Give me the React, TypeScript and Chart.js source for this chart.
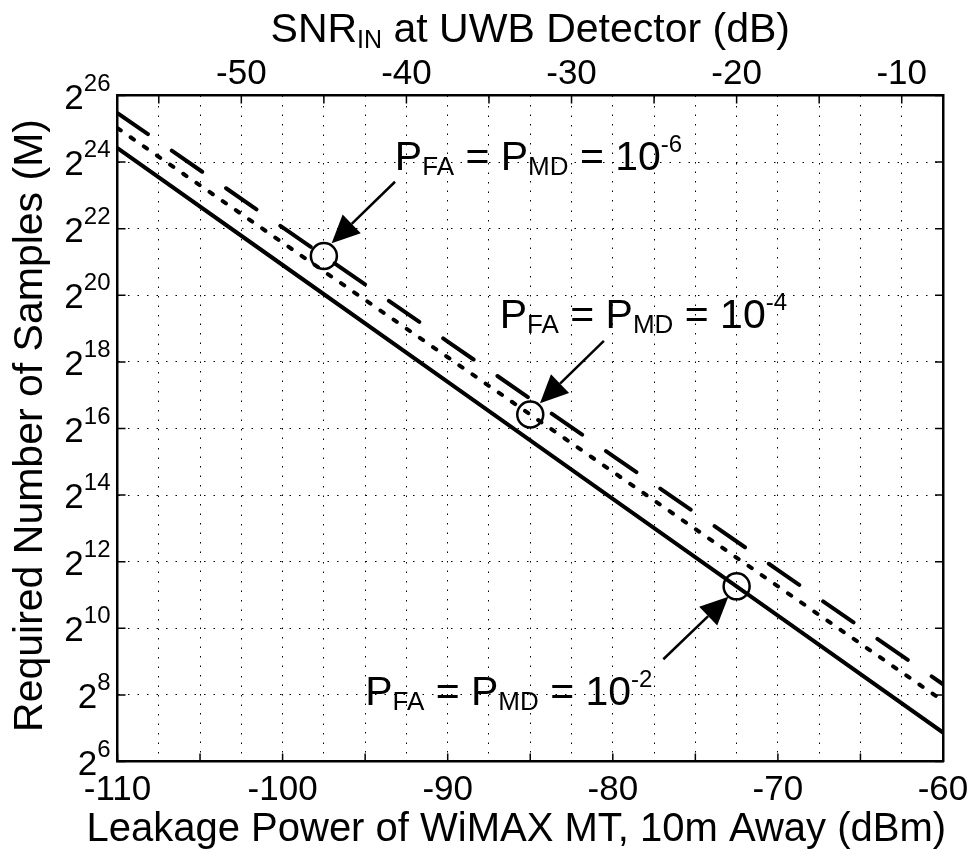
import React, { useEffect, useRef } from 'react';
import { Chart, registerables } from 'chart.js';

Chart.register(...registerables);

const FONT = '"Liberation Sans", Arial, Helvetica, sans-serif';

// Leakage power of the WiMAX MT, 10 m away (dBm), where each curve is sampled
const leakagePower = [-110, -100, -90, -80, -70, -60];
// log2 of the required number of samples M for each detection target
const log2M_pfa1e2 = [24.42, 20.91, 17.4, 13.89, 10.38, 6.87];
const log2M_pfa1e4 = [25.02, 21.58, 18.14, 14.7, 11.26, 7.82];
const log2M_pfa1e6 = [25.47, 22.04, 18.61, 15.18, 11.75, 8.32];

// Highlighted operating points (circles)
const markerPower = [-97.5, -85, -72.5];
const markerLog2M = [21.18, 16.42, 11.26];

// Axis ticks
const powerTicks = [-110, -105, -100, -95, -90, -85, -80, -75, -70, -65, -60];
const snrTicks = [-55, -50, -45, -40, -35, -30, -25, -20, -15, -10];
const exponentTicks = [6, 8, 10, 12, 14, 16, 18, 20, 22, 24, 26];

// SNR_IN at the UWB detector spans the same range shifted by 52.5 dB
const snrMin = -57.5;
const snrMax = -7.5;

// Callouts: label exponent, text anchor (dBm, log2 M), arrow tail and tip
const callouts = [
  { exp: '-6', tx: -93.2, ty: 23.76, ax: -93.19, ay: 23.41, bx: -97.03, by: 21.56 },
  { exp: '-4', tx: -86.85, ty: 19.01, ax: -80.54, ay: 18.63, bx: -84.41, by: 16.76 },
  { exp: '-2', tx: -95.0, ty: 7.7, ax: -76.94, ay: 9.07, bx: -73.0, by: 10.95 },
];

type Part = { t: string; size: number; dy: number };

function drawRich(ctx: CanvasRenderingContext2D, parts: Part[], x: number, y: number, align: 'left' | 'center' | 'right') {
  const widths = parts.map((p) => {
    ctx.font = `${p.size}px ${FONT}`;
    return ctx.measureText(p.t).width;
  });
  const total = widths.reduce((a, b) => a + b, 0);
  let cx = align === 'left' ? x : align === 'center' ? x - total / 2 : x - total;
  ctx.textAlign = 'left';
  ctx.textBaseline = 'alphabetic';
  parts.forEach((p, i) => {
    ctx.font = `${p.size}px ${FONT}`;
    ctx.fillText(p.t, cx, y + p.dy);
    cx += widths[i];
  });
}

function drawArrow(ctx: CanvasRenderingContext2D, x1: number, y1: number, x2: number, y2: number) {
  const ang = Math.atan2(y2 - y1, x2 - x1);
  const hl = 28;
  const hw = 13;
  const bx = x2 - hl * Math.cos(ang);
  const by = y2 - hl * Math.sin(ang);
  ctx.lineWidth = 2.5;
  ctx.beginPath();
  ctx.moveTo(x1, y1);
  ctx.lineTo(bx, by);
  ctx.stroke();
  ctx.beginPath();
  ctx.moveTo(x2, y2);
  ctx.lineTo(bx + hw * Math.sin(ang), by - hw * Math.cos(ang));
  ctx.lineTo(bx - hw * Math.sin(ang), by + hw * Math.cos(ang));
  ctx.closePath();
  ctx.fill();
}

// Tick marks pointing into the plot box on all four sides
const innerTicks = {
  id: 'innerTicks',
  afterDraw(chart: any) {
    const { ctx, chartArea: a, scales } = chart;
    const L = 8;
    ctx.save();
    ctx.strokeStyle = '#000';
    ctx.lineWidth = 1.5;
    ctx.setLineDash([]);
    ctx.beginPath();
    for (const t of scales.x.ticks) {
      const px = scales.x.getPixelForValue(t.value);
      ctx.moveTo(px, a.bottom);
      ctx.lineTo(px, a.bottom - L);
    }
    for (const t of scales.x2.ticks) {
      const px = scales.x2.getPixelForValue(t.value);
      ctx.moveTo(px, a.top);
      ctx.lineTo(px, a.top + L);
    }
    for (const t of scales.y.ticks) {
      const py = scales.y.getPixelForValue(t.value);
      ctx.moveTo(a.left, py);
      ctx.lineTo(a.left + L, py);
      ctx.moveTo(a.right, py);
      ctx.lineTo(a.right - L, py);
    }
    ctx.stroke();
    ctx.restore();
  },
};

// Power-of-two tick labels, axis titles, callout texts and arrows
const labels = {
  id: 'labels',
  afterDraw(chart: any) {
    const { ctx, chartArea: a, scales } = chart;
    ctx.save();
    ctx.fillStyle = '#000';
    ctx.strokeStyle = '#000';

    for (const e of exponentTicks) {
      const py = scales.y.getPixelForValue(Math.pow(2, e));
      drawRich(ctx, [
        { t: '2', size: 35, dy: 0 },
        { t: String(e), size: 24, dy: -18 },
      ], a.left - 7, py + 13, 'right');
    }

    const cx = (a.left + a.right) / 2;
    drawRich(ctx, [
      { t: 'SNR', size: 41, dy: 0 },
      { t: 'IN', size: 25, dy: 6 },
      { t: ' at UWB Detector (dB)', size: 41, dy: 0 },
    ], cx, 42, 'center');

    drawRich(ctx, [{ t: 'Leakage Power of WiMAX MT, 10m Away (dBm)', size: 40, dy: 0 }], cx - 14, 841, 'center');

    ctx.save();
    ctx.translate(42, (a.top + a.bottom) / 2 - 3);
    ctx.rotate(-Math.PI / 2);
    drawRich(ctx, [{ t: 'Required Number of Samples (M)', size: 41, dy: 0 }], 0, 0, 'center');
    ctx.restore();

    for (const c of callouts) {
      const tx = scales.x.getPixelForValue(c.tx);
      const ty = scales.y.getPixelForValue(Math.pow(2, c.ty));
      drawRich(ctx, [
        { t: 'P', size: 41, dy: 0 },
        { t: 'FA', size: 26, dy: 5 },
        { t: ' = P', size: 41, dy: 0 },
        { t: 'MD', size: 26, dy: 5 },
        { t: ' = 10', size: 41, dy: 0 },
        { t: c.exp, size: 24, dy: -18 },
      ], tx, ty, 'left');
      drawArrow(
        ctx,
        scales.x.getPixelForValue(c.ax),
        scales.y.getPixelForValue(Math.pow(2, c.ay)),
        scales.x.getPixelForValue(c.bx),
        scales.y.getPixelForValue(Math.pow(2, c.by)),
      );
    }
    ctx.restore();
  },
};

function curve(log2M: number[]) {
  return leakagePower.map((x, i) => ({ x, y: Math.pow(2, log2M[i]) }));
}

const gridStyle = { color: '#000', lineWidth: 1, drawTicks: false };
const dottedBorder = { display: true, color: '#000', width: 2.5, dash: [1.5, 8] };
const tickFont = { family: FONT, size: 35 };

export default function App() {
  const ref = useRef<HTMLCanvasElement>(null);

  useEffect(() => {
    const lineBase = {
      borderColor: '#000',
      borderWidth: 4,
      pointRadius: 0,
      borderCapStyle: 'round',
      fill: false,
      tension: 0,
      xAxisID: 'x',
      yAxisID: 'y',
    };
    const chart = new Chart(ref.current as HTMLCanvasElement, {
      type: 'line',
      data: {
        datasets: [
          { ...lineBase, label: 'PFA = PMD = 1e-2', data: curve(log2M_pfa1e2), borderDash: [] },
          { ...lineBase, label: 'PFA = PMD = 1e-4', data: curve(log2M_pfa1e4), borderDash: [4, 12] },
          { ...lineBase, label: 'PFA = PMD = 1e-6', data: curve(log2M_pfa1e6), borderDash: [37, 29] },
          {
            type: 'scatter',
            label: 'operating points',
            data: markerPower.map((x, i) => ({ x, y: Math.pow(2, markerLog2M[i]) })),
            showLine: false,
            pointRadius: 13,
            pointBorderWidth: 2.5,
            pointBorderColor: '#000',
            pointBackgroundColor: 'rgba(0,0,0,0)',
            xAxisID: 'x',
            yAxisID: 'y',
          },
        ] as any,
      },
      options: {
        animation: false,
        responsive: false,
        devicePixelRatio: 1,
        layout: { padding: 0 },
        plugins: { legend: { display: false }, tooltip: { enabled: false } },
        scales: {
          x: {
            type: 'linear',
            position: 'bottom',
            min: -110,
            max: -60,
            afterBuildTicks: (s: any) => {
              s.ticks = powerTicks.map((v) => ({ value: v }));
            },
            ticks: {
              callback: (v: any) => (Number(v) % 10 === 0 ? String(v) : ''),
              font: tickFont,
              color: '#000',
              padding: 8,
              maxRotation: 0,
              autoSkip: false,
            },
            grid: gridStyle,
            border: dottedBorder,
            afterFit: (s: any) => {
              s.height = 94.5;
              s.paddingLeft = 0;
              s.paddingRight = 0;
            },
          },
          x2: {
            type: 'linear',
            position: 'top',
            display: true,
            min: snrMin,
            max: snrMax,
            afterBuildTicks: (s: any) => {
              s.ticks = snrTicks.map((v) => ({ value: v }));
            },
            ticks: {
              callback: (v: any) => (Number(v) % 10 === 0 ? String(v) : ''),
              font: tickFont,
              color: '#000',
              padding: 0,
              maxRotation: 0,
              autoSkip: false,
            },
            grid: gridStyle,
            border: dottedBorder,
            afterFit: (s: any) => {
              s.height = 95.5;
              s.paddingLeft = 0;
              s.paddingRight = 0;
            },
          },
          y: {
            type: 'logarithmic',
            position: 'left',
            min: Math.pow(2, 6),
            max: Math.pow(2, 26),
            afterBuildTicks: (s: any) => {
              s.ticks = exponentTicks.map((e) => ({ value: Math.pow(2, e) }));
            },
            ticks: { display: false },
            grid: gridStyle,
            border: dottedBorder,
            afterFit: (s: any) => {
              s.width = 117.5;
              s.paddingTop = 0;
              s.paddingBottom = 0;
            },
          },
          y2: {
            type: 'logarithmic',
            position: 'right',
            display: true,
            min: Math.pow(2, 6),
            max: Math.pow(2, 26),
            ticks: { display: false },
            grid: { display: false, drawTicks: false },
            border: { display: true, color: '#000', width: 2.5 },
            afterFit: (s: any) => {
              s.width = 26;
              s.paddingTop = 0;
              s.paddingBottom = 0;
            },
          },
        },
      } as any,
      plugins: [innerTicks, labels],
    });
    return () => chart.destroy();
  }, []);

  return (
    <div style={{ position: 'absolute', left: 0, top: 0, width: 969, height: 856, background: '#fff' }}>
      <canvas ref={ref} width={969} height={856} style={{ display: 'block' }} />
    </div>
  );
}
